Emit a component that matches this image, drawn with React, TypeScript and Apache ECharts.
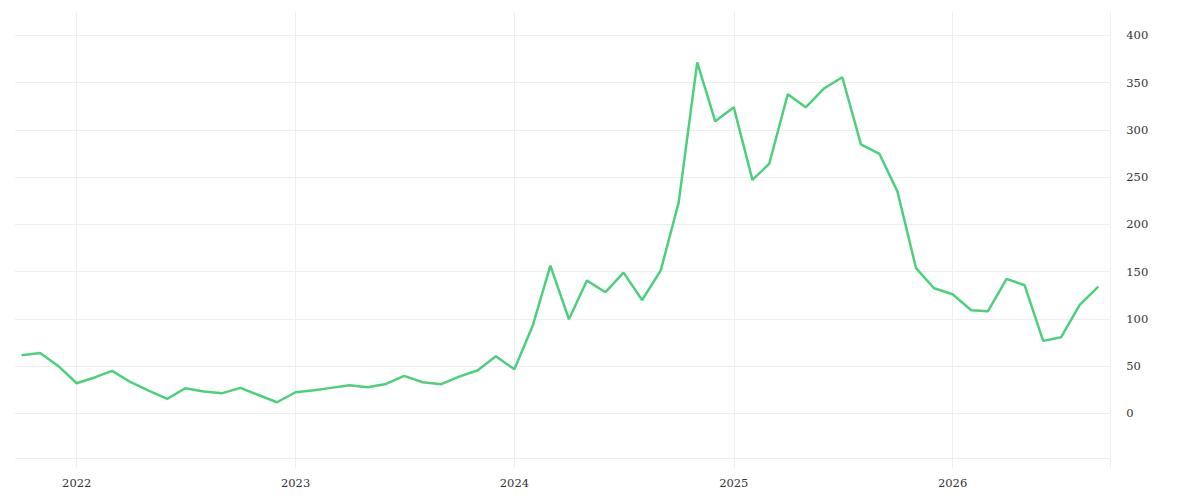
import React, { useEffect, useRef } from "react";
import * as echarts from "echarts";

const months: string[] = [
  "2021-10-01", "2021-11-01", "2021-12-01",
  "2022-01-01", "2022-02-01", "2022-03-01", "2022-04-01", "2022-05-01", "2022-06-01",
  "2022-07-01", "2022-08-01", "2022-09-01", "2022-10-01", "2022-11-01", "2022-12-01",
  "2023-01-01", "2023-02-01", "2023-03-01", "2023-04-01", "2023-05-01", "2023-06-01",
  "2023-07-01", "2023-08-01", "2023-09-01", "2023-10-01", "2023-11-01", "2023-12-01",
  "2024-01-01", "2024-02-01", "2024-03-01", "2024-04-01", "2024-05-01", "2024-06-01",
  "2024-07-01", "2024-08-01", "2024-09-01", "2024-10-01", "2024-11-01", "2024-12-01",
  "2025-01-01", "2025-02-01", "2025-03-01", "2025-04-01", "2025-05-01", "2025-06-01",
  "2025-07-01", "2025-08-01", "2025-09-01", "2025-10-01", "2025-11-01", "2025-12-01",
  "2026-01-01", "2026-02-01", "2026-03-01", "2026-04-01", "2026-05-01", "2026-06-01",
  "2026-07-01", "2026-08-01", "2026-09-01",
];

const values: number[] = [
  61.5, 64, 50.2,
  31.9, 38.3, 45, 33, 24.1, 15.3,
  26.6, 23.1, 21.4, 27, 19.2, 11.8,
  22.4, 24.5, 27, 29.8, 27.7, 31.2,
  39.7, 33, 30.9, 38.9, 45.7, 60.5,
  46.7, 93.6, 156.3, 99.6, 140.5, 128.2,
  148.9, 120, 151, 223, 371.4, 309,
  323.8, 247, 263.9, 337.6, 323.8, 344,
  355.6, 284.7, 274.5, 234.6, 153.6, 132.4,
  126, 109.1, 108.1, 142.3, 135.6, 76.7,
  80.6, 114.8, 134.1,
];

const X_MIN = "2021-09-20";
const X_MAX = "2026-09-21";
const Y_MIN = -47.5;
const Y_MAX = 400;

const LINE_COLOR = "#4cd07d";
const GRID_COLOR = "#eeeeee";
const TEXT_COLOR = "#333333";
const FONT = "DejaVu Serif";

export default function App() {
  const ref = useRef<HTMLDivElement>(null);

  useEffect(() => {
    if (!ref.current) return;
    const chart = echarts.init(ref.current, undefined, { renderer: "svg" });
    const DAY = 86400000;
    chart.setOption({
      animation: false,
      backgroundColor: "#ffffff",
      grid: [
        { left: 15, right: 89.7, top: 35.3, bottom: 41.7 },
        { left: 15, right: 89.7, top: 12, bottom: 32 },
      ],
      xAxis: [
        {
          type: "time",
          gridIndex: 0,
          min: X_MIN,
          max: X_MAX,
          axisLine: { show: true, lineStyle: { color: GRID_COLOR, width: 1 } },
          axisTick: { show: false },
          axisLabel: { show: false },
          splitLine: { show: false },
        },
        {
          type: "time",
          gridIndex: 1,
          min: X_MIN,
          max: X_MAX,
          minInterval: 365 * DAY,
          axisLine: { show: false },
          axisTick: { show: false },
          axisLabel: {
            formatter: "{yyyy}",
            color: TEXT_COLOR,
            fontFamily: FONT,
            fontSize: 11.5,
            margin: 9,
            showMinLabel: false,
            showMaxLabel: false,
          },
          splitLine: {
            show: true,
            showMinLine: false,
            lineStyle: { color: GRID_COLOR, width: 1 },
          },
        },
      ],
      yAxis: [
        {
          type: "value",
          gridIndex: 0,
          position: "right",
          min: Y_MIN,
          max: Y_MAX,
          splitNumber: 9,
          minInterval: 50,
          maxInterval: 50,
          axisLine: { show: false },
          axisTick: { show: false },
          axisLabel: {
            color: TEXT_COLOR,
            fontFamily: FONT,
            fontSize: 11.5,
            margin: 16,
            align: "left",
            showMinLabel: false,
            formatter: (v: number) => (v < 0 ? "" : String(v)),
          },
          splitLine: { show: true, lineStyle: { color: GRID_COLOR, width: 1 } },
        },
        {
          type: "value",
          gridIndex: 1,
          position: "right",
          min: 0,
          max: 1,
          axisLine: { show: true, lineStyle: { color: GRID_COLOR, width: 1 } },
          axisTick: { show: false },
          axisLabel: { show: false },
          splitLine: { show: false },
        },
      ],
      series: [
        {
          type: "line",
          xAxisIndex: 0,
          yAxisIndex: 0,
          data: months.map((m, i) => [m, values[i]]),
          showSymbol: false,
          symbol: "none",
          lineStyle: { color: LINE_COLOR, width: 2.5 },
          itemStyle: { color: LINE_COLOR },
        },
      ],
    });
    return () => chart.dispose();
  }, []);

  return (
    <div
      ref={ref}
      style={{ position: "fixed", left: 0, top: 0, width: 1200, height: 500, background: "#fff" }}
    />
  );
}
